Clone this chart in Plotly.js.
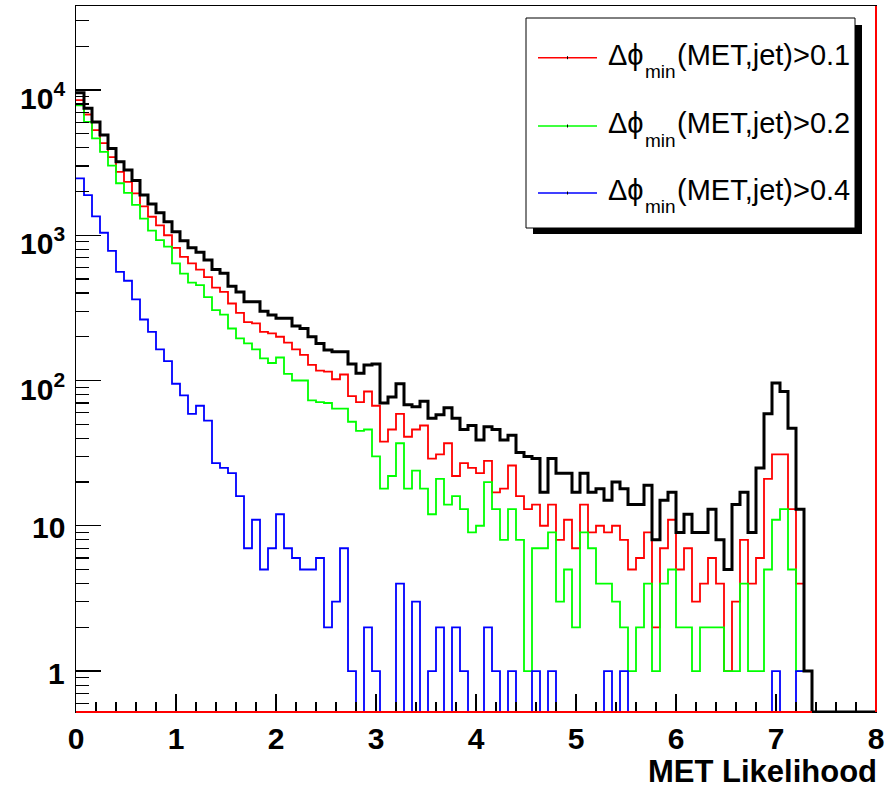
<!DOCTYPE html>
<html>
<head>
<meta charset="utf-8">
<script src="https://cdn.plot.ly/plotly-3.0.1.min.js"></script>
<style>html,body{margin:0;padding:0;background:#fff;}#chart{width:895px;height:788px;}</style>
</head>
<body>
<div id="chart"></div>
<script>
// Histogram binning: 100 bins from 0 to 8
const xLow = 0, xHigh = 8, nBins = 100;

// Counts per bin
const allEvents = [9550,7490,6030,4890,3960,3200,2810,2380,1890,1640,1430,1240,1055,918,819,765,674,580,548,446,
  406,348,348,300,282,268,268,237,228,200,180,162,158,158,130,112,128,130,70,77,
  95,68,66,72,55,58,65,55,46,49,39,48,46,39,42,32,30,29,17,29,
  23,23,17,23,17,18,15,20,18,14,14,19,8,15,17,9,12,9,9,13,
  8,5,14,17,9,25,59,96,84,47,13,1,0,0,0,0,0,0,0,0];
const dphi01 = [8500,6780,5290,4300,3450,2730,2330,1940,1580,1340,1170,1000,819,710,640,580,515,436,408,339,
  292,252,247,216,211,200,182,164,150,128,117,115,102,110,78,71,84,67,38,46,
  59,41,46,49,29,31,37,22,27,25,23,28,17,18,26,16,13,14,10,14,
  8,11,7,14,9,10,9,10,8,5,6,9,2,7,11,5,7,3,4,6,
  4,1,3,8,4,6,21,31,31,13,4,1,0,0,0,0,0,0,0,0];
const dphi02 = [7830,6030,4640,3750,3010,2280,1960,1620,1300,1076,925,835,640,544,472,454,375,305,284,228,
  195,180,164,142,132,144,111,100,100,73,71,70,64,64,52,45,46,30,18,22,
  37,18,24,18,12,21,14,16,13,9,10,20,13,8,13,8,1,7,7,9,
  3,5,2,9,7,4,4,3,2,1,2,4,1,4,5,2,2,1,2,2,
  2,1,1,4,1,1,5,11,13,5,1,1,0,0,0,0,0,0,0,0];
const dphi04 = [2460,1890,1350,1040,781,560,486,362,263,216,164,136,95,79,59,67,53,27,25,23,
  16,7,11,5,7,12,7,6,5,5,6,2,3,7,1,0,2,1,0,0,
  4,0,3,0,1,2,0,2,1,0,0,2,1,0,1,0,0,1,0,1,
  0,0,0,0,0,0,1,0,1,0,0,0,0,0,0,0,0,0,0,0,
  0,0,0,0,0,0,0,1,0,0,1,1,0,0,0,0,0,0,0,0];

const legendPrefix = 'Δϕ';
const legendSub = 'min';
const legendCuts = ['(MET,jet)>0.1', '(MET,jet)>0.2', '(MET,jet)>0.4'];
const xTicks = [0,1,2,3,4,5,6,7,8];
const yTicks = [1,10,100,1000,10000];
const yTickText = ['1','10','10<sup>2</sup>','10<sup>3</sup>','10<sup>4</sup>'];
const yMinor = [0.6,0.7,0.8,0.9,2,3,4,5,6,7,8,9,20,30,40,50,60,70,80,90,200,300,400,500,600,700,800,900,
  2000,3000,4000,5000,6000,7000,8000,9000,20000,30000];
const xTitle = 'MET Likelihood';

const yRange = [-0.282, 4.578];
const floorVal = Math.pow(10, yRange[0]);
const binW = (xHigh - xLow) / nBins;
const edges = [];
for (let i = 0; i <= nBins; i++) edges.push(xLow + i * binW);

function stepTrace(counts, color, width) {
  const y = counts.map(v => v > 0 ? v : floorVal);
  y.push(y[y.length - 1]);
  return {x: edges, y: y, type: 'scatter', mode: 'lines',
    line: {shape: 'hv', color: color, width: width}, hoverinfo: 'skip', showlegend: false};
}

const traces = [
  stepTrace(dphi01, '#ff0000', 1.8),
  stepTrace(dphi02, '#00ff00', 1.8),
  stepTrace(dphi04, '#0000ff', 1.8),
  stepTrace(allEvents, '#000000', 3)
];

// pixel helpers for legend decoration (plot area 76..876 x, 6..712 y)
const L = 76, R = 876, T = 6, B = 712;
const px = p => (p - L) / (R - L);
const py = p => (B - p) / (B - T);
const FONT = 'Liberation Sans, Arial, Helvetica, sans-serif';

const legendColors = ['#ff0000', '#00ff00', '#0000ff'];
const legendRows = [57.7, 126, 193];

const shapes = [
  {type:'rect', xref:'paper', yref:'paper', x0:px(533), x1:px(862), y0:py(234), y1:py(25), fillcolor:'#000', line:{width:0}, layer:'above'},
  {type:'rect', xref:'paper', yref:'paper', x0:px(526), x1:px(855), y0:py(228), y1:py(18), fillcolor:'#fff', line:{color:'#000', width:1}, layer:'above'},
  {type:'line', xref:'paper', yref:'paper', x0:0, x1:px(812), y0:0, y1:0, line:{color:'#ff0000', width:2}, layer:'above'},
  {type:'line', xref:'paper', yref:'paper', x0:1, x1:1, y0:0, y1:1, line:{color:'#ff0000', width:2}, layer:'above'}
];
const annotations = [];
legendCuts.forEach((cut, i) => {
  const yy = legendRows[i];
  shapes.push({type:'line', xref:'paper', yref:'paper', x0:px(538), x1:px(597), y0:py(yy), y1:py(yy), line:{color:legendColors[i], width:1.6}, layer:'above'});
  shapes.push({type:'line', xref:'paper', yref:'paper', x0:px(567.5), x1:px(567.5), y0:py(yy-1.5), y1:py(yy+1.5), line:{color:'#000', width:1}, layer:'above'});
  annotations.push({xref:'paper', yref:'paper', x:px(606), y:py(yy-3), xanchor:'left', yanchor:'middle', showarrow:false,
    text: legendPrefix, font:{family:FONT, size:29, color:'#000'}});
  annotations.push({xref:'paper', yref:'paper', x:px(643), y:py(yy+14), xanchor:'left', yanchor:'middle', showarrow:false,
    text: legendSub, font:{family:FONT, size:19, color:'#000'}});
  annotations.push({xref:'paper', yref:'paper', x:px(675), y:py(yy-3), xanchor:'left', yanchor:'middle', showarrow:false,
    text: cut, font:{family:FONT, size:29, color:'#000'}});
});
annotations.push({xref:'paper', yref:'paper', x:px(879), y:py(771), xanchor:'right', yanchor:'middle', showarrow:false,
  text: xTitle, font:{family:FONT, size:31, color:'#000', weight:'bold'}});
// y tick labels, placed through the y axis scale
yTicks.forEach((v, i) => {
  const hasSup = yTickText[i].indexOf('<sup>') >= 0;
  annotations.push({xref:'paper', yref:'y', x:px(67), y:Math.log10(v), xanchor:'right', yanchor:'middle', showarrow:false,
    yshift: hasSup ? -6 : -2,
    text: yTickText[i], font:{family:FONT, size:30, color:'#000', weight:'bold'}});
});

const layout = {
  width: 895, height: 788,
  margin: {l: L, r: 895 - R, t: T, b: 788 - B, pad: 0},
  paper_bgcolor: '#fff', plot_bgcolor: '#fff',
  showlegend: false,
  xaxis: {range: [xLow, xHigh], tickmode: 'array', tickvals: xTicks, ticktext: xTicks.map(String),
    ticks: 'inside', ticklen: 18, tickwidth: 1.2, tickcolor: '#000',
    minor: {dtick: 0.2, tick0: 0, ticks: 'inside', ticklen: 10, tickwidth: 1.2, tickcolor: '#000'},
    showline: true, mirror: true, linecolor: '#000', linewidth: 1.2, showgrid: false, zeroline: false,
    tickfont: {family: FONT, size: 30, color: '#000', weight: 'bold'}},
  yaxis: {type: 'log', range: yRange, tickmode: 'array', tickvals: yTicks, ticktext: yTickText,
    showticklabels: false,
    ticks: 'inside', ticklen: 25, tickwidth: 1.2, tickcolor: '#000',
    minor: {tickmode: 'array', tickvals: yMinor, ticks: 'inside', ticklen: 13, tickwidth: 1.2, tickcolor: '#000'},
    showline: true, mirror: true, linecolor: '#000', linewidth: 1.2, showgrid: false, zeroline: false},
  shapes: shapes,
  annotations: annotations
};

Plotly.newPlot('chart', traces, layout, {displayModeBar: false, staticPlot: true});
</script>
</body>
</html>
